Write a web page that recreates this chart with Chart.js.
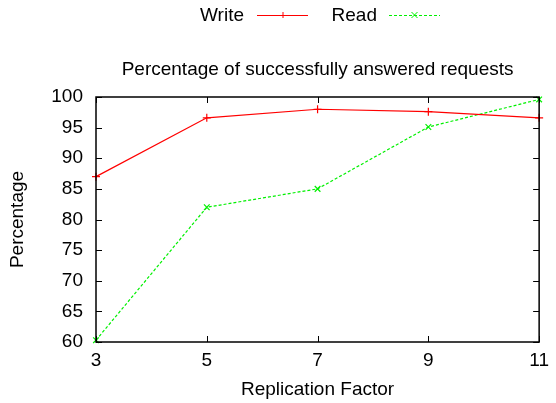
<!DOCTYPE html>
<html>
<head>
<meta charset="utf-8">
<script src="https://cdn.jsdelivr.net/npm/chart.js@4"></script>
<style>
  html, body { margin: 0; padding: 0; background: #fff; }
  #wrap { width: 556px; height: 403px; }
</style>
</head>
<body>
<div id="wrap"><canvas id="replChart" width="556" height="403"></canvas></div>
<script>
// replication factors on the x axis
const factors = [3, 5, 7, 9, 11];
// percentage of answered requests
const writeValues = [87, 96.6, 98, 97.6, 96.6];
const readValues = [60.3, 82, 85, 95.1, 99.6];

const chartTitle = 'Percentage of successfully answered requests';

const FONT = "'Liberation Sans', Arial, Helvetica, sans-serif";
const FSIZE = 19;

const toPoints = (xs, ys) => xs.map((x, i) => ({x: x, y: ys[i]}));

// gnuplot style frame: box around plot, ticks pointing inward on all sides
const framePlugin = {
  id: 'frame',
  afterDatasetsDraw(chart) {
    const ctx = chart.ctx;
    const a = chart.chartArea;
    const xs = chart.scales.x, ys = chart.scales.y;
    ctx.save();
    ctx.strokeStyle = '#000';
    ctx.lineWidth = 1;
    const len = 6;
    ctx.beginPath();
    xs.ticks.forEach(t => {
      const px = Math.round(xs.getPixelForValue(t.value)) + 0.5;
      ctx.moveTo(px, a.bottom); ctx.lineTo(px, a.bottom - len);
      ctx.moveTo(px, a.top); ctx.lineTo(px, a.top + len);
    });
    ys.ticks.forEach(t => {
      const py = Math.round(ys.getPixelForValue(t.value)) + 0.5;
      ctx.moveTo(a.left, py); ctx.lineTo(a.left + len, py);
      ctx.moveTo(a.right, py); ctx.lineTo(a.right - len, py);
    });
    ctx.stroke();
    ctx.lineWidth = 1.5;
    ctx.strokeRect(a.left, a.top, a.right - a.left, a.bottom - a.top);
    ctx.restore();
  }
};

// title and legend drawn like gnuplot's, centred over the plot box
const keyPlugin = {
  id: 'gnukey',
  afterDraw(chart) {
    const ctx = chart.ctx;
    const a = chart.chartArea;
    ctx.save();
    ctx.font = FSIZE + 'px ' + FONT;
    ctx.fillStyle = '#000';
    ctx.textBaseline = 'middle';
    ctx.textAlign = 'center';
    ctx.fillText(chartTitle, (a.left + a.right) / 2, 70);

    const y = 15;
    const entries = [
      {ds: chart.data.datasets[0], textRight: 244, lineFrom: 257, lineTo: 308},
      {ds: chart.data.datasets[1], textRight: 377, lineFrom: 389, lineTo: 440}
    ];
    ctx.textAlign = 'right';
    entries.forEach(e => {
      ctx.fillText(e.ds.label, e.textRight, y + 1);
      ctx.strokeStyle = e.ds.borderColor;
      ctx.lineWidth = 1;
      ctx.setLineDash(e.ds.borderDash || []);
      ctx.beginPath();
      ctx.moveTo(e.lineFrom, y + 0.5);
      ctx.lineTo(e.lineTo, y + 0.5);
      ctx.stroke();
      ctx.setLineDash([]);
      const mx = (e.lineFrom + e.lineTo) / 2;
      const r = 3;
      ctx.beginPath();
      if (e.ds.pointStyle === 'cross') {
        ctx.moveTo(mx - r, y + 0.5); ctx.lineTo(mx + r, y + 0.5);
        ctx.moveTo(mx + 0.5, y - r); ctx.lineTo(mx + 0.5, y + r);
      } else {
        ctx.moveTo(mx - r, y - r); ctx.lineTo(mx + r, y + r);
        ctx.moveTo(mx + r, y - r); ctx.lineTo(mx - r, y + r);
      }
      ctx.stroke();
    });
    ctx.restore();
  }
};

new Chart('replChart', {
  type: 'scatter',
  data: {
    datasets: [{
      label: 'Write',
      data: toPoints(factors, writeValues),
      showLine: true,
      borderColor: '#ff0000',
      backgroundColor: '#ff0000',
      borderWidth: 1.2,
      pointStyle: 'cross',
      pointRadius: 4,
      pointBorderWidth: 1.2,
      tension: 0
    }, {
      label: 'Read',
      data: toPoints(factors, readValues),
      showLine: true,
      borderColor: '#00f000',
      backgroundColor: '#00f000',
      borderWidth: 1.2,
      borderDash: [3, 2],
      pointStyle: 'crossRot',
      pointRadius: 4,
      pointBorderWidth: 1.2,
      tension: 0
    }]
  },
  options: {
    responsive: false,
    animation: false,
    clip: false,
    layout: {padding: {top: 97, right: 13, bottom: 0, left: 0}},
    plugins: {
      legend: {display: false},
      tooltip: {enabled: false},
      title: {display: false}
    },
    scales: {
      x: {
        type: 'linear',
        min: 3,
        max: 11,
        afterFit(scale) { scale.height = 61; },
        ticks: {
          stepSize: 2,
          color: '#000',
          padding: 7,
          font: {family: FONT, size: FSIZE},
          maxRotation: 0
        },
        grid: {display: false, drawTicks: false},
        border: {display: false},
        title: {
          display: true,
          text: 'Replication Factor',
          color: '#000',
          font: {family: FONT, size: FSIZE},
          padding: {top: 0, bottom: 2}
        }
      },
      y: {
        min: 60,
        max: 100,
        afterFit(scale) { scale.width = 96; },
        ticks: {
          stepSize: 5,
          color: '#000',
          padding: 13,
          font: {family: FONT, size: FSIZE}
        },
        grid: {display: false, drawTicks: false},
        border: {display: false},
        title: {
          display: true,
          text: 'Percentage',
          color: '#000',
          font: {family: FONT, size: FSIZE},
          padding: {top: 6, bottom: 0}
        }
      }
    }
  },
  plugins: [framePlugin, keyPlugin]
});
</script>
</body>
</html>
